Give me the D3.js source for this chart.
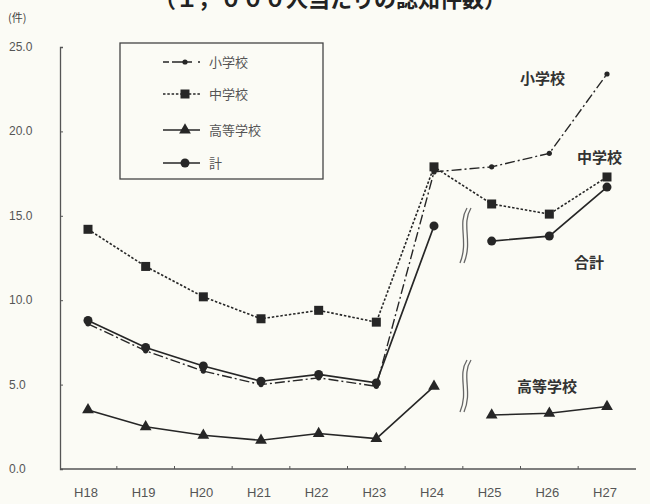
<!DOCTYPE html>
<html>
<head>
<meta charset="utf-8">
<script src="https://cdn.jsdelivr.net/npm/d3@7"></script>
<style>
  body { margin: 0; background: #fbfbf5; }
  svg { display: block; }
  text { font-family: "Noto Sans CJK JP", sans-serif; fill: #333; }
  .num { font-family: "Liberation Sans Narrow", "Liberation Sans", sans-serif; }
</style>
</head>
<body>
<svg id="chart" width="650" height="504"></svg>
<script>
// data
const years = ['H18','H19','H20','H21','H22','H23','H24','H25','H26','H27'];
const elementary = [8.6, 7.0, 5.8, 5.0, 5.4, 4.9, 17.6, 17.9, 18.7, 23.4];
const juniorHigh = [14.2, 12.0, 10.2, 8.9, 9.4, 8.7, 17.9, 15.7, 15.1, 17.3];
const highSchool = [3.5, 2.5, 2.0, 1.7, 2.1, 1.8, 4.9, 3.2, 3.3, 3.7];
const total = [8.8, 7.2, 6.1, 5.2, 5.6, 5.1, 14.4, 13.5, 13.8, 16.7];
const yTicks = [0, 5, 10, 15, 20, 25];
const seriesNames = ['小学校', '中学校', '高等学校', '計'];
const endLabels = ['小学校', '中学校', '高等学校', '合計'];

const svg = d3.select('#chart');
const ink = '#262626';

var x = d3.scalePoint().domain(years).range([88, 607]);
var y = d3.scaleLinear().domain([0, 25]).range([469, 47]);

// title (cut off at the top in the original)
svg.append('text').attr('x', 330).attr('y', 7).attr('text-anchor', 'middle')
  .style('font-size', '22px').style('font-weight', 'bold').style('fill', '#222')
  .text('（１，０００人当たりの認知件数）');
svg.append('text').attr('x', 8).attr('y', 22).style('font-size', '11px').style('fill', '#444').text('(件)');

// axes
var yAxis = d3.axisRight(y).tickValues(yTicks).tickSize(3).tickFormat(d3.format('.1f'));
var gy = svg.append('g').attr('transform', 'translate(60,0)').call(yAxis);
gy.selectAll('text').remove();
gy.select('.domain').attr('stroke', '#555').attr('stroke-width', 1.3);
gy.selectAll('.tick line').attr('stroke', '#555');
svg.selectAll('.ylab').data(yTicks).enter().append('text').attr('class', 'num ylab')
  .attr('x', 9).attr('y', d => y(d) + 4).style('font-size', '12px').style('fill', '#555')
  .text(d => d3.format('.1f')(d));

var gx = svg.append('g').attr('transform', 'translate(0,469)');
gx.append('line').attr('x1', 60).attr('x2', 636).attr('stroke', '#555').attr('stroke-width', 1.3);
var step = x.step();
gx.selectAll('.xt').data(years.slice(0, -1)).enter().append('line')
  .attr('x1', d => x(d) + step / 2).attr('x2', d => x(d) + step / 2)
  .attr('y1', 0).attr('y2', -3).attr('stroke', '#555');
gx.selectAll('.xlab').data(years).enter().append('text').attr('class', 'num')
  .attr('x', d => x(d) - 2).attr('y', 28).attr('text-anchor', 'middle')
  .style('font-size', '13px').style('fill', '#555').text(d => d);

var line = d3.line().x(d => x(d.year)).y(d => y(d.value));

function draw(values, dash, width, broken, marker) {
  var pts = values.map((v, i) => ({year: years[i], value: v}));
  var parts = broken ? [pts.slice(0, 7), pts.slice(7)] : [pts];
  parts.forEach(p => {
    svg.append('path').datum(p).attr('d', line).attr('fill', 'none')
      .attr('stroke', ink).attr('stroke-width', width).attr('stroke-dasharray', dash);
  });
  var g = svg.append('g');
  pts.forEach(p => marker(g, x(p.year), y(p.value)));
}

function dot(r) {
  return (g, cx, cy) => g.append('circle').attr('cx', cx).attr('cy', cy).attr('r', r).attr('fill', ink);
}
function square(s) {
  return (g, cx, cy) => g.append('rect').attr('x', cx - s / 2).attr('y', cy - s / 2)
    .attr('width', s).attr('height', s).attr('fill', ink);
}
function tri(s) {
  return (g, cx, cy) => g.append('path')
    .attr('d', d3.symbol().type(d3.symbolTriangle).size(s)())
    .attr('transform', `translate(${cx},${cy})`).attr('fill', ink);
}

const styles = [
  {values: elementary, dash: '10,3,2,3', width: 1.4, broken: false, marker: dot(2.6)},
  {values: juniorHigh, dash: '2.5,1.8', width: 1.6, broken: false, marker: square(9)},
  {values: highSchool, dash: null, width: 1.6, broken: true, marker: tri(60)},
  {values: total, dash: null, width: 1.7, broken: true, marker: dot(4.5)}
];

// draw order: high school, elementary, total, junior high
[2, 0, 3, 1].forEach(i => draw(styles[i].values, styles[i].dash, styles[i].width, styles[i].broken, styles[i].marker));

// break marks (double wavy line)
function breakMark(cx, top, bottom) {
  var h = bottom - top;
  var wave = `M${cx + 4},${top} C${cx - 6},${top + h * 0.3} ${cx + 6},${top + h * 0.6} ${cx - 3},${bottom}`;
  [-2, 2].forEach(off => {
    svg.append('path').attr('d', wave).attr('transform', `translate(${off},0)`)
      .attr('fill', 'none').attr('stroke', '#666').attr('stroke-width', 1.3);
  });
}
breakMark(465, 208, 263);
breakMark(465, 360, 412);

// legend
svg.append('rect').attr('x', 120).attr('y', 43).attr('width', 203).attr('height', 136)
  .attr('fill', 'none').attr('stroke', '#444').attr('stroke-width', 1.3);
const legendY = [62, 94, 130, 163];
seriesNames.forEach((name, i) => {
  var s = styles[i];
  svg.append('line').attr('x1', 163).attr('x2', 200).attr('y1', legendY[i]).attr('y2', legendY[i])
    .attr('stroke', ink).attr('stroke-width', s.width).attr('stroke-dasharray', i == 0 ? '6,3,20' : s.dash);
  s.marker(svg, 185, legendY[i]);
  svg.append('text').attr('x', 209).attr('y', legendY[i] + 5).style('font-size', '13px')
    .style('fill', '#555').text(name);
});

// end labels
const endPos = [[520, 84], [577, 163], [517, 392], [574, 268]];
endLabels.forEach((t, i) => {
  svg.append('text').attr('x', endPos[i][0]).attr('y', endPos[i][1]).style('font-size', '15px')
    .style('font-weight', 'bold').style('fill', '#333').text(t);
});
</script>
</body>
</html>
